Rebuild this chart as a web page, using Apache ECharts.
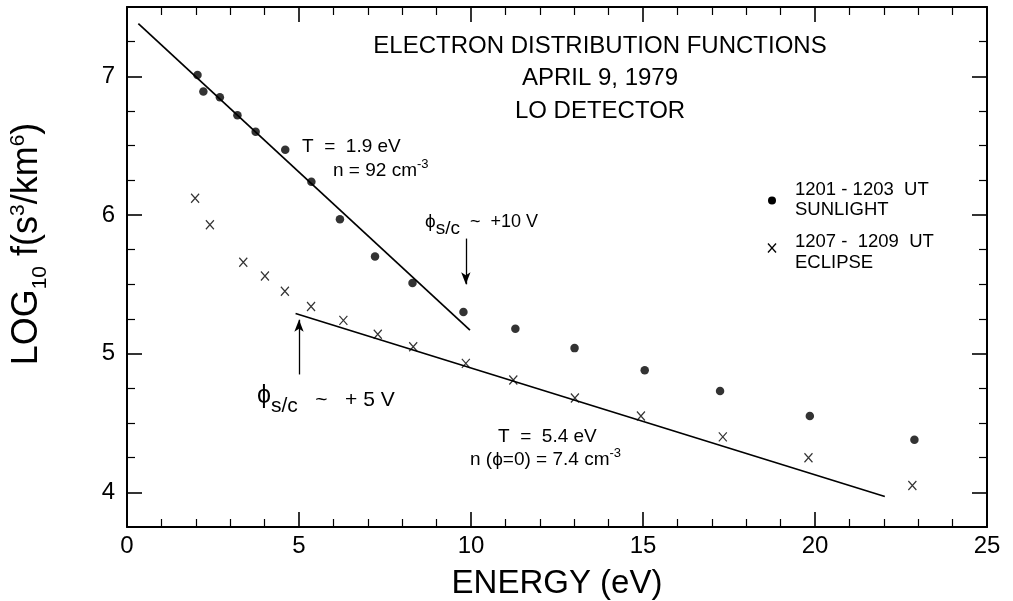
<!DOCTYPE html>
<html><head><meta charset="utf-8">
<script src="https://cdn.jsdelivr.net/npm/echarts@6/dist/echarts.min.js"></script>
<style>html,body{margin:0;padding:0;background:#fff}#c{width:1013px;height:601px}</style>
</head><body><div id="c"></div>
<script>
// ---- data ----
const sunlightEnergy = [2.05, 2.22, 2.70, 3.21, 3.74, 4.60, 5.36, 6.19, 7.21, 8.30, 9.78, 11.29, 13.01, 15.05, 17.24, 19.85, 22.89];
const sunlightLogF   = [7.01, 6.89, 6.85, 6.72, 6.60, 6.47, 6.24, 5.97, 5.70, 5.51, 5.30, 5.18, 5.04, 4.88, 4.73, 4.55, 4.38];
const eclipseEnergy  = [1.98, 2.41, 3.38, 4.01, 4.59, 5.35, 6.29, 7.29, 8.32, 9.85, 11.23, 13.02, 14.94, 17.32, 19.81, 22.83];
const eclipseLogF    = [6.12, 5.93, 5.66, 5.56, 5.45, 5.34, 5.24, 5.14, 5.05, 4.93, 4.81, 4.68, 4.55, 4.40, 4.25, 4.05];
const sunFitEnergy = [0.33, 9.97];
const sunFitLogF   = [7.38, 5.17];
const eclFitEnergy = [4.90, 22.03];
const eclFitLogF   = [5.29, 3.97];
const arrow10V = [[9.85, 5.83], [9.85, 5.50]];
const arrow5V  = [[5.00, 4.85], [5.00, 5.245]];
const yMajorTicks = [4, 5, 6, 7];
const yMinorTicks = [4.25, 4.5, 4.75, 5.25, 5.5, 5.75, 6.25, 6.5, 6.75, 7.25];

const zip = (a, b) => a.map((v, i) => [v, b[i]]);
const FF = '"Liberation Sans", Arial, "DejaVu Sans", sans-serif';
const BLACK = '#000';

function richPart(M, S, shift) {
  const d = 0.3465 * (M - S) + shift;
  const pad = d >= 0 ? [2 * d, 0, 0, 0] : [0, 0, -2 * d, 0];
  return { fontSize: S, fontFamily: FF, fill: BLACK, padding: pad };
}
// parts: [text, size, baselineShift(+down)]
function richText(x, baseline, M, parts, extra) {
  const rich = {};
  let txt = '';
  parts.forEach((p, i) => {
    const key = 'p' + i;
    rich[key] = richPart(M, p[1], p[2] || 0);
    txt += '{' + key + '|' + p[0] + '}';
  });
  return Object.assign({
    type: 'text', x: x, y: baseline - 0.3465 * M, silent: true,
    style: { text: txt, rich: rich, align: 'left', verticalAlign: 'middle', fontSize: M, fontFamily: FF, fill: BLACK }
  }, extra || {});
}
function plain(x, yMid, size, text, align) {
  return { type: 'text', x: x, y: yMid, silent: true,
    style: { text: text, fontSize: size, fontFamily: FF, fill: BLACK, align: align || 'left', verticalAlign: 'middle' } };
}

const axisLineStyle = { color: BLACK, width: 2 };
function xAx(pos, labels) {
  return {
    type: 'value', position: pos, min: 0, max: 25, interval: 5,
    axisLine: { show: true, onZero: false, lineStyle: axisLineStyle },
    axisTick: { show: true, inside: true, length: 15, lineStyle: { color: BLACK, width: 1.6 } },
    minorTick: { show: true, splitNumber: 5, length: 8, lineStyle: { color: BLACK, width: 1.2 } },
    axisLabel: { show: labels, fontSize: 24, color: BLACK, fontFamily: FF, margin: 7 },
    splitLine: { show: false }, minorSplitLine: { show: false },
    name: labels ? 'ENERGY (eV)' : '', nameLocation: 'middle', nameGap: 40,
    nameTextStyle: { fontSize: 33, color: BLACK, fontFamily: FF }
  };
}
function yAx(pos, ticks, len, labels, line) {
  return {
    type: 'value', position: pos, min: 3.75, max: 7.5, offset: 0,
    axisLine: { show: line, onZero: false, lineStyle: axisLineStyle },
    axisTick: { show: true, inside: true, length: len, customValues: ticks, lineStyle: { color: BLACK, width: len > 10 ? 1.6 : 1.2 } },
    axisLabel: { show: labels, customValues: yMajorTicks, fontSize: 24, color: BLACK, fontFamily: FF, margin: 12 },
    splitLine: { show: false }
  };
}

const chart = echarts.init(document.getElementById('c'), null, { renderer: 'canvas' });
const M10 = 18, M5 = 21, MT = 19;
const option = {
  animation: false,
  backgroundColor: '#fff',
  grid: { left: 127, right: 26, top: 7, bottom: 74, containLabel: false, outerBoundsMode: 'none' },
  xAxis: [xAx('bottom', true), xAx('top', false)],
  yAxis: [
    yAx('left', yMajorTicks, 15, true, true),
    yAx('right', yMajorTicks, 15, false, true),
    yAx('left', yMinorTicks, 8, false, false),
    yAx('right', yMinorTicks, 8, false, false)
  ],
  series: [
    {
      name: 'sunlight fit', type: 'line', data: zip(sunFitEnergy, sunFitLogF),
      showSymbol: false, symbol: 'none', lineStyle: { color: BLACK, width: 1.7 }, itemStyle: { color: BLACK }, silent: true, z: 2,
      markLine: {
        silent: true, symbol: ['none', 'arrow'], symbolSize: [7, 12],
        label: { show: false }, itemStyle: { color: BLACK },
        lineStyle: { color: BLACK, width: 1.3, type: 'solid' },
        emphasis: { disabled: true },
        data: [
          [{ coord: arrow10V[0] }, { coord: arrow10V[1] }],
          [{ coord: arrow5V[0] }, { coord: arrow5V[1] }]
        ]
      }
    },
    {
      name: 'eclipse fit', type: 'line', data: zip(eclFitEnergy, eclFitLogF),
      showSymbol: false, symbol: 'none', lineStyle: { color: BLACK, width: 1.7 }, itemStyle: { color: BLACK }, silent: true, z: 2
    },
    {
      name: '1201 - 1203 UT SUNLIGHT', type: 'scatter', data: zip(sunlightEnergy, sunlightLogF),
      symbol: 'circle', symbolSize: 8.5, itemStyle: { color: BLACK }, z: 3
    },
    {
      name: '1207 - 1209 UT ECLIPSE', type: 'scatter', data: zip(eclipseEnergy, eclipseLogF),
      symbol: 'path://M0,0L10,10M0,10L10,0', symbolSize: [8, 9],
      itemStyle: { color: 'rgba(0,0,0,0)', borderColor: BLACK, borderWidth: 1.3 }, z: 3
    }
  ],
  graphic: [
    // title
    plain(600, 46.5, 24, 'ELECTRON DISTRIBUTION FUNCTIONS', 'center'),
    plain(600, 78, 24, 'APRIL 9, 1979', 'center'),
    plain(600, 111.5, 24, 'LO DETECTOR', 'center'),
    // sunlight fit annotation
    plain(302, 146.5, MT, 'T  =  1.9 eV'),
    richText(333, 177, MT, [['n = 92 cm', MT, 0], ['-3', 13, -8]]),
    // spacecraft potential annotations
    richText(425, 228, M10, [['ϕ', 19, 0], ['s/c', 19, 7], ['  ~  +10 V', M10, 0]]),
    richText(257, 407, M5, [['ϕ', 25, -2], ['s/c', 21, 6], ['   ~   + 5 V', M5, 0]]),
    // eclipse fit annotation
    plain(498, 436.5, MT, 'T  =  5.4 eV'),
    richText(470, 466, MT, [['n (ϕ=0) = 7.4 cm', MT, 0], ['-3', 13, -8]]),
    // legend
    { type: 'circle', shape: { cx: 772, cy: 200.5, r: 4 }, style: { fill: BLACK }, silent: true },
    plain(795, 190, 18.5, '1201 - 1203  UT'),
    plain(795, 210, 18.5, 'SUNLIGHT'),
    { type: 'polyline', shape: { points: [[768, 243.5], [776, 252.5]] }, style: { stroke: BLACK, lineWidth: 1.3, fill: null }, silent: true },
    { type: 'polyline', shape: { points: [[776, 243.5], [768, 252.5]] }, style: { stroke: BLACK, lineWidth: 1.3, fill: null }, silent: true },
    plain(795, 241.5, 18.5, '1207 -  1209  UT'),
    plain(795, 262.5, 18.5, 'ECLIPSE'),
    // y axis title
    richText(0, 0, 36, [['LOG', 36, 0], ['10', 21, 8], [' f(s', 36, 0], ['3', 21, -14], ['/km', 36, 0], ['6', 21, -14], [')', 36, 0]],
      { x: 27, y: 244, rotation: Math.PI / 2 })
  ]
};
option.graphic[option.graphic.length - 1].style.align = 'center';
chart.setOption(option);
</script>
</body></html>
